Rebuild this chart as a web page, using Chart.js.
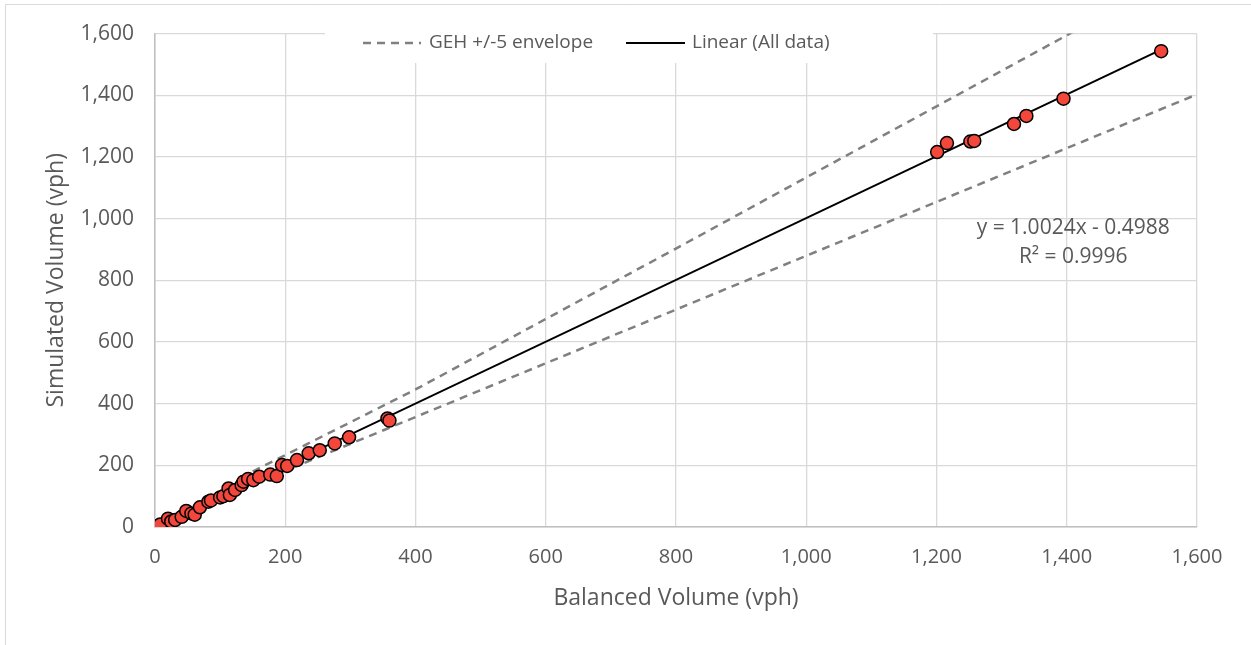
<!DOCTYPE html>
<html>
<head>
<meta charset="utf-8">
<script src="https://cdn.jsdelivr.net/npm/chart.js@4/dist/chart.umd.min.js"></script>
<style>
  html, body { margin: 0; padding: 0; background: #fff; }
  #wrap { width: 1251px; height: 645px; position: relative; }
</style>
</head>
<body>
<div id="wrap"><canvas id="c" width="1251" height="645"></canvas></div>
<script>
// ---- Data ----
const balancedVolume = [2, 5, 8, 20, 25, 31, 41, 48, 56, 61, 69, 82, 86, 100, 105, 113, 115, 123, 133, 136, 143, 151, 160, 177, 187, 195, 203, 218, 236, 253, 276, 298, 357, 360,
  1201, 1216, 1252, 1258, 1319, 1338, 1395, 1545];
const simulatedVolume = [2, 4, 8, 27, 18, 23, 33, 52, 44, 40, 64, 82, 86, 96, 100, 125, 104, 120, 136, 147, 156, 152, 163, 170, 165, 201, 198, 217, 239, 249, 271, 291, 352, 345,
  1216, 1245, 1250, 1252, 1307, 1333, 1389, 1543];

const gehUpperX = [150, 400, 800, 1600];
const gehUpperY = [180, 446, 903, 1825];
const gehLowerX = [150, 800, 1600];
const gehLowerY = [139, 705, 1403];

const trendSlope = 1.0024;
const trendIntercept = -0.4988;
const trendR2 = 0.9996;

const axisTicks = [0, 200, 400, 600, 800, 1000, 1200, 1400, 1600];

// ---- Build datasets ----
const pts = balancedVolume.map((x, i) => ({ x: x, y: simulatedVolume[i] }));
const xmin = Math.min(...balancedVolume), xmax = Math.max(...balancedVolume);
const trendPts = [xmin, xmax].map(x => ({ x: x, y: trendSlope * x + trendIntercept }));
const upperPts = gehUpperX.map((x, i) => ({ x: x, y: gehUpperY[i] }));
const lowerPts = gehLowerX.map((x, i) => ({ x: x, y: gehLowerY[i] }));

const FONT = "'Open Sans', 'Liberation Sans', sans-serif";
const TXT = '#595959';
const fmt = v => v.toLocaleString('en-US');

const overlayPlugin = {
  id: 'overlay',
  beforeDraw(chart) {
    const ctx = chart.ctx;
    ctx.save();
    ctx.strokeStyle = '#d9d9d9';
    ctx.lineWidth = 1;
    ctx.beginPath();
    ctx.moveTo(5.5, 645);
    ctx.lineTo(5.5, 4.5);
    ctx.lineTo(1251, 4.5);
    ctx.stroke();
    ctx.restore();
  },
  afterDraw(chart) {
    const ctx = chart.ctx;
    const xs = chart.scales.x, ys = chart.scales.y;
    ctx.save();
    // legend box
    ctx.fillStyle = '#ffffff';
    ctx.fillRect(325, 22, 608, 41);
    ctx.lineWidth = 2.5;
    ctx.strokeStyle = '#808080';
    ctx.setLineDash([8, 6]);
    ctx.beginPath();
    ctx.moveTo(363, 43); ctx.lineTo(421, 43);
    ctx.stroke();
    ctx.setLineDash([]);
    ctx.strokeStyle = '#000000';
    ctx.lineWidth = 2;
    ctx.beginPath();
    ctx.moveTo(626, 43); ctx.lineTo(685, 43);
    ctx.stroke();
    ctx.fillStyle = TXT;
    ctx.font = "19px " + FONT;
    ctx.textBaseline = 'middle';
    ctx.textAlign = 'left';
    ctx.fillText(chart.data.datasets[1].label, 429, 43);
    ctx.fillText(chart.data.datasets[0].label, 692, 43);
    // equation
    ctx.font = "21px " + FONT;
    ctx.textAlign = 'center';
    const ex = xs.getPixelForValue(1410);
    ctx.fillText('y = ' + trendSlope.toFixed(4) + 'x - ' + Math.abs(trendIntercept).toFixed(4), ex, ys.getPixelForValue(968));
    ctx.fillText('R² = ' + trendR2.toFixed(4), ex, ys.getPixelForValue(874));
    ctx.restore();
  }
};

new Chart(document.getElementById('c'), {
  type: 'scatter',
  data: {
    datasets: [
      {
        label: 'Linear (All data)',
        data: trendPts,
        showLine: true,
        borderColor: '#000000',
        borderWidth: 2,
        pointRadius: 0,
        order: 2
      },
      {
        label: 'GEH +/-5 envelope',
        data: upperPts,
        showLine: true,
        borderColor: '#808080',
        borderWidth: 2.5,
        borderDash: [8, 6],
        pointRadius: 0,
        order: 3
      },
      {
        label: 'GEH lower',
        data: lowerPts,
        showLine: true,
        borderColor: '#808080',
        borderWidth: 2.5,
        borderDash: [8, 6],
        pointRadius: 0,
        order: 3
      },
      {
        label: 'Volumes',
        data: pts,
        backgroundColor: '#F4473B',
        borderColor: '#000000',
        borderWidth: 1.5,
        pointRadius: 6.5,
        order: 1
      }
    ]
  },
  options: {
    responsive: false,
    animation: false,
    layout: { padding: { left: 0, top: 33, right: 54, bottom: 0 } },
    plugins: { legend: { display: false }, tooltip: { enabled: false } },
    scales: {
      x: {
        type: 'linear', min: 0, max: 1600,
        afterBuildTicks: s => { s.ticks = axisTicks.map(v => ({ value: v })); },
        afterFit: s => { s.height = 118; },
        grid: { color: '#d9d9d9', lineWidth: 1.3, drawTicks: false },
        border: { color: '#bfbfbf', width: 1.5 },
        ticks: { color: TXT, font: { family: FONT, size: 20 }, padding: 18, callback: v => fmt(v), maxRotation: 0 },
        title: { display: true, text: 'Balanced Volume (vph)', color: TXT, font: { family: FONT, size: 23 }, padding: { top: 0, bottom: 33 } }
      },
      y: {
        type: 'linear', min: 0, max: 1600,
        afterBuildTicks: s => { s.ticks = axisTicks.map(v => ({ value: v })); },
        afterFit: s => { s.width = 155; },
        grid: { color: '#d9d9d9', lineWidth: 1.3, drawTicks: false },
        border: { color: '#bfbfbf', width: 1.5 },
        ticks: { color: TXT, font: { family: FONT, size: 21 }, padding: 21, callback: v => fmt(v) },
        title: { display: true, text: 'Simulated Volume (vph)', color: TXT, font: { family: FONT, size: 23 }, padding: { top: 43, bottom: 0 } }
      }
    }
  },
  plugins: [overlayPlugin]
});
</script>
</body>
</html>
